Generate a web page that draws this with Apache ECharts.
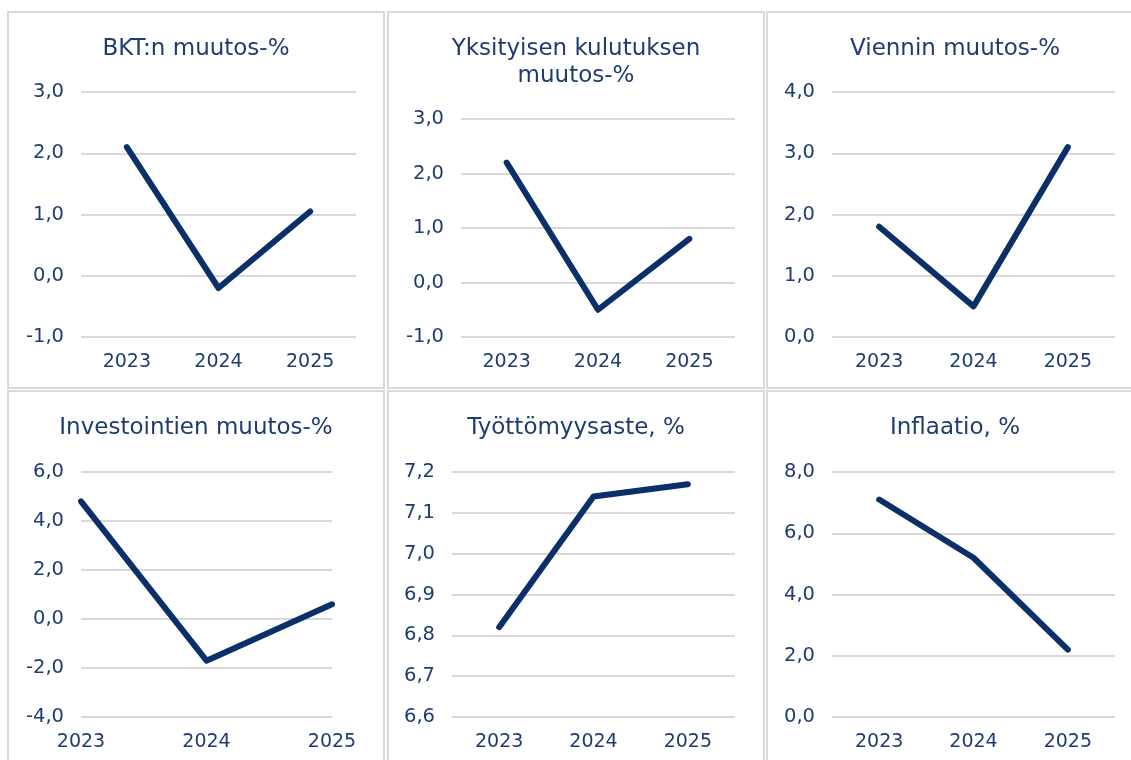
<!DOCTYPE html>
<html>
<head>
<meta charset="utf-8">
<script src="https://cdn.jsdelivr.net/npm/echarts@6/dist/echarts.min.js"></script>
<style>
  html, body { margin: 0; padding: 0; background: #fff; overflow: hidden; }
  body { width: 1131px; height: 760px; position: relative; }
  .panel {
    position: absolute;
    width: 378px;
    height: 378px;
    box-sizing: border-box;
    border: 2px solid #d9d9d9;
    background: #fff;
  }
  .chart { width: 374px; height: 374px; }
</style>
</head>
<body>
<div class="panel" style="left:7px;top:11px"><div class="chart" id="c1"></div></div>
<div class="panel" style="left:387px;top:11px"><div class="chart" id="c2"></div></div>
<div class="panel" style="left:766px;top:11px"><div class="chart" id="c3"></div></div>
<div class="panel" style="left:7px;top:390px"><div class="chart" id="c4"></div></div>
<div class="panel" style="left:387px;top:390px"><div class="chart" id="c5"></div></div>
<div class="panel" style="left:766px;top:390px"><div class="chart" id="c6"></div></div>

<script>
// Data
const years = ['2023', '2024', '2025'];

const bktValues = [2.1, -0.2, 1.05];
const kulutusValues = [2.2, -0.5, 0.8];
const vientiValues = [1.8, 0.5, 3.1];
const investValues = [4.8, -1.7, 0.6];
const tyottomyysValues = [6.82, 7.14, 7.17];
const inflaatioValues = [7.1, 5.2, 2.2];

const titles = [
  'BKT:n muutos-%',
  'Yksityisen kulutuksen\nmuutos-%',
  'Viennin muutos-%',
  'Investointien muutos-%',
  'Työttömyysaste, %',
  'Inflaatio, %'
];

// y axis ranges [min, max, interval]
const yRanges = [
  [-1, 3, 1],
  [-1, 3, 1],
  [0, 4, 1],
  [-4, 6, 2],
  [6.6, 7.2, 0.1],
  [0, 8, 2]
];

const TEXT_COLOR = '#1f3c70';
const LINE_COLOR = '#0b3069';
const GRID_COLOR = '#d9d9d9';
const FONT = '"DejaVu Sans", Verdana, sans-serif';

const panels = [
  { id: 'c1', values: bktValues,        grid: { left: 72, top: 79,  width: 275, height: 245 }, gap: true },
  { id: 'c2', values: kulutusValues,    grid: { left: 72, top: 106, width: 274, height: 218 }, gap: true },
  { id: 'c3', values: vientiValues,     grid: { left: 64, top: 79,  width: 283, height: 245 }, gap: true },
  { id: 'c4', values: investValues,     grid: { left: 72, top: 80,  width: 251, height: 245 }, gap: false },
  { id: 'c5', values: tyottomyysValues, grid: { left: 63, top: 80,  width: 283, height: 245 }, gap: true },
  { id: 'c6', values: inflaatioValues,  grid: { left: 64, top: 80,  width: 283, height: 245 }, gap: true }
];

function fmt(v) {
  return v.toFixed(1).replace('.', ',');
}

panels.forEach((p, i) => {
  const chart = echarts.init(document.getElementById(p.id), null, { renderer: 'canvas' });
  const [min, max, interval] = yRanges[i];

  chart.setOption({
    animation: false,
    textStyle: { fontFamily: FONT },
    title: {
      text: titles[i],
      left: 'center',
      top: 18,
      textStyle: {
        color: TEXT_COLOR,
        fontFamily: FONT,
        fontSize: 23,
        fontWeight: 'normal',
        lineHeight: 27
      }
    },
    grid: p.grid,
    xAxis: {
      type: 'category',
      data: years,
      boundaryGap: p.gap,
      axisLine: { show: false },
      axisTick: { show: false },
      axisLabel: {
        color: TEXT_COLOR,
        fontFamily: FONT,
        fontSize: 19,
        margin: 16
      }
    },
    yAxis: {
      type: 'value',
      min: min,
      max: max,
      interval: interval,
      axisLine: { show: false },
      axisTick: { show: false },
      axisLabel: {
        color: TEXT_COLOR,
        fontFamily: FONT,
        fontSize: 19.5,
        margin: 17,
        formatter: fmt
      },
      splitLine: {
        lineStyle: { color: GRID_COLOR, width: 2 }
      }
    },
    series: [{
      type: 'line',
      data: p.values,
      symbol: 'none',
      lineStyle: {
        color: LINE_COLOR,
        width: 6,
        cap: 'round',
        join: 'round'
      }
    }]
  });
});
</script>
</body>
</html>
